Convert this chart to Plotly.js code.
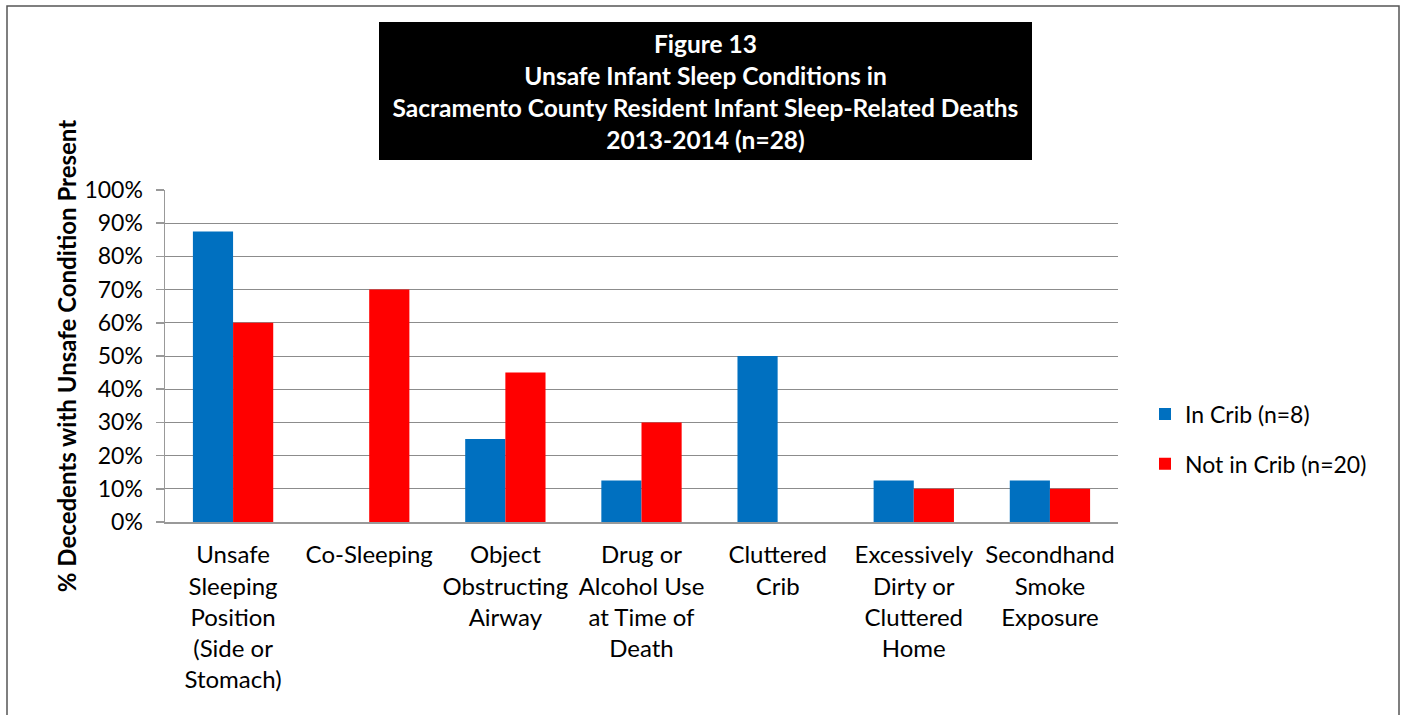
<!DOCTYPE html>
<html>
<head>
<meta charset="utf-8">
<script src="https://cdn.plot.ly/plotly-3.0.1.min.js"></script>
<style>html,body{margin:0;padding:0;background:#fff;}#chart{width:1406px;height:715px;}</style>
</head>
<body>
<div id="chart"></div>
<script>
const categories = [
  "Unsafe<br>Sleeping<br>Position<br>(Side or<br>Stomach)",
  "Co-Sleeping",
  "Object<br>Obstructing<br>Airway",
  "Drug or<br>Alcohol Use<br>at Time of<br>Death",
  "Cluttered<br>Crib",
  "Excessively<br>Dirty or<br>Cluttered<br>Home",
  "Secondhand<br>Smoke<br>Exposure"
];
const inCrib = [0.875, 0, 0.25, 0.125, 0.5, 0.125, 0.125];
const notInCrib = [0.60, 0.70, 0.45, 0.30, 0, 0.10, 0.10];
const seriesNames = ["In Crib (n=8)", "Not in Crib (n=20)"];
const yTickVals = [0,0.1,0.2,0.3,0.4,0.5,0.6,0.7,0.8,0.9,1.0];
const yTickText = ["0%","10%","20%","30%","40%","50%","60%","70%","80%","90%","100%"];
const titleText = "Figure 13<br>Unsafe Infant Sleep Conditions in<br>Sacramento County Resident Infant Sleep-Related Deaths<br>2013-2014 (n=28)";
const yTitle = "% Decedents with Unsafe Condition Present";

const FONT = "Lato, 'Open Sans', sans-serif";

const traces = [
  {type:'bar', x:categories, y:inCrib, name:seriesNames[0], marker:{color:'#0070C0'}, legendgroup:'a', hoverinfo:'none'},
  {type:'bar', x:categories, y:notInCrib, name:seriesNames[1], marker:{color:'#FF0000'}, legendgroup:'b', hoverinfo:'none'}
];

const W = 1406, H = 715, L = 165, R = 288, T = 190, B = 193;
const pw = W - L - R, ph = H - T - B;
const px = x => (x - L) / pw;
const py = y => (H - B - y) / ph;

const layout = {
  width: W, height: H,
  margin: {l:L, r:R, t:T, b:B},
  paper_bgcolor:'#fff', plot_bgcolor:'#fff',
  font:{family:FONT, size:24, color:'#000'},
  title:{text:titleText, font:{family:FONT, size:24.5, color:'#fff', weight:'bold'},
         xref:'container', yref:'container', x:705.5/W, xanchor:'center', y:1-53/H, yanchor:'top'},
  barmode:'group', bargap:0.41, bargroupgap:0,
  xaxis:{showline:true, linecolor:'#999', linewidth:1.5, ticks:'', tickfont:{size:24}, ticklabelstandoff:11, fixedrange:true, automargin:false},
  yaxis:{range:[0,1], tickvals:yTickVals, ticktext:yTickText, showgrid:true, gridcolor:'#8c8c8c', gridwidth:1,
         showline:true, linecolor:'#999', linewidth:1.5, ticks:'outside', ticklen:8, tickcolor:'#999', tickwidth:1.5,
         tickfont:{size:23}, ticklabelstandoff:8, zeroline:false, automargin:false,
         title:{text:yTitle, font:{size:24, weight:'bold'}, standoff:1}},
  legend:{x:px(1145), xanchor:'left', y:py(439), yanchor:'middle', font:{size:23}, traceorder:'grouped', tracegroupgap:17, bgcolor:'rgba(0,0,0,0)'},
  shapes:[
    {type:'rect', xref:'paper', yref:'paper', x0:px(379), x1:px(1032), y0:py(160), y1:py(22), fillcolor:'#000', line:{width:0}, layer:'below'},
    {type:'rect', xref:'paper', yref:'paper', x0:px(7), x1:px(1399), y0:py(730), y1:py(6), fillcolor:'rgba(0,0,0,0)', line:{color:'#555', width:1.5}}
  ]
};

Plotly.newPlot('chart', traces, layout, {displayModeBar:false, staticPlot:true});
</script>
</body>
</html>
